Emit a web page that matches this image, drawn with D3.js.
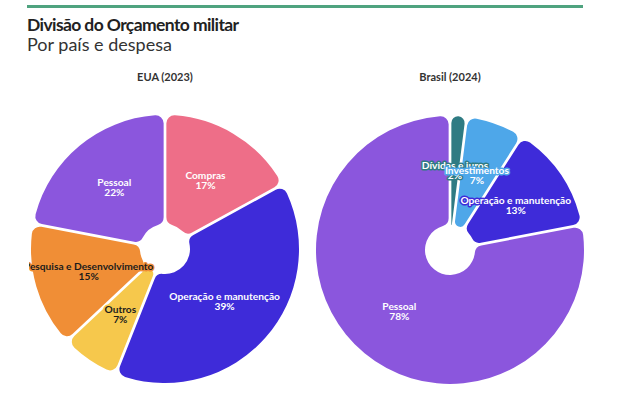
<!DOCTYPE html>
<html>
<head>
<meta charset="utf-8">
<script src="https://cdn.jsdelivr.net/npm/d3@7"></script>
<style>
  html, body { margin: 0; padding: 0; background: #fff; }
  svg { display: block; font-family: "Lato", "Noto Sans", sans-serif; }
</style>
</head>
<body>
<div id="chart"></div>
<script>
// data
const chartTitles = ["EUA (2023)", "Brasil (2024)"];
const usaLabels = ["Compras", "Operação e manutenção", "Outros", "Pesquisa e Desenvolvimento", "Pessoal"];
const usaValues = [17, 39, 7, 15, 22];
const brLabels = ["Dívidas e juros", "Investimentos", "Operação e manutenção", "Pessoal"];
const brValues = [2, 7, 13, 78];

const colors = {
  "Compras": "#ee6e88",
  "Operação e manutenção": "#3e2bd9",
  "Outros": "#f6c84c",
  "Pesquisa e Desenvolvimento": "#f08e36",
  "Pessoal": "#8b56dd",
  "Dívidas e juros": "#2f7b83",
  "Investimentos": "#4ea7e9"
};
const darkText = ["Outros", "Pesquisa e Desenvolvimento"];

const w = 620, h = 399;
const svg = d3.select('#chart').append('svg')
  .attr('width', w)
  .attr('height', h);

// header
svg.append('rect')
  .attr('x', 27).attr('y', 5)
  .attr('width', 556).attr('height', 3)
  .attr('fill', '#4fa37f');

svg.append('text')
  .attr('x', 27).attr('y', 31)
  .attr('font-size', 17.5)
  .attr('font-weight', 700)
  .attr('letter-spacing', -0.6)
  .attr('fill', '#222')
  .text('Divisão do Orçamento militar');

svg.append('text')
  .attr('x', 27).attr('y', 51)
  .attr('font-size', 18)
  .attr('fill', '#333')
  .text('Por país e despesa');

svg.append('clipPath').attr('id', 'clip')
  .append('rect').attr('x', 29).attr('y', 60).attr('width', 560).attr('height', 339);

const outerR = 134, innerR = 25;
const pie = d3.pie().sort(null).value(d => d.value);
const arc = d3.arc()
  .innerRadius(innerR)
  .outerRadius(outerR)
  .padAngle(0.02)
  .cornerRadius(8);
const labelArc = d3.arc().innerRadius(innerR).outerRadius(outerR);

function drawPie(cx, cy, title, labels, values) {
  const data = labels.map((l, i) => ({ label: l, value: values[i] }));

  svg.append('text')
    .attr('x', cx).attr('y', 81)
    .attr('text-anchor', 'middle')
    .attr('font-size', 11)
    .attr('font-weight', 700)
    .attr('fill', '#333')
    .text(title);

  const g = svg.append('g')
    .attr('clip-path', 'url(#clip)')
    .append('g')
    .attr('transform', 'translate(' + cx + ',' + cy + ')');

  const arcs = pie(data);

  g.selectAll('path')
    .data(arcs)
    .enter().append('path')
    .attr('d', arc)
    .attr('fill', d => colors[d.data.label]);

  //labels: name + percent, haloed in slice colour
  const lbl = g.selectAll('text.lbl')
    .data(arcs)
    .enter().append('text')
    .attr('class', 'lbl')
    .attr('transform', d => 'translate(' + labelArc.centroid(d) + ')')
    .attr('text-anchor', 'middle')
    .attr('font-size', 10.2)
    .attr('font-weight', 700)
    .attr('fill', d => darkText.includes(d.data.label) ? '#1c1c1c' : '#fff')
    .attr('stroke', d => colors[d.data.label])
    .attr('stroke-width', 3)
    .attr('stroke-linejoin', 'round')
    .attr('paint-order', 'stroke');

  lbl.append('tspan')
    .attr('x', 0).attr('dy', '-0.15em')
    .text(d => d.data.label);
  lbl.append('tspan')
    .attr('x', 0).attr('dy', '1.0em')
    .text(d => d.data.value + '%');
}

drawPie(165, 249, chartTitles[0], usaLabels, usaValues);
drawPie(450, 250, chartTitles[1], brLabels, brValues);
</script>
</body>
</html>
